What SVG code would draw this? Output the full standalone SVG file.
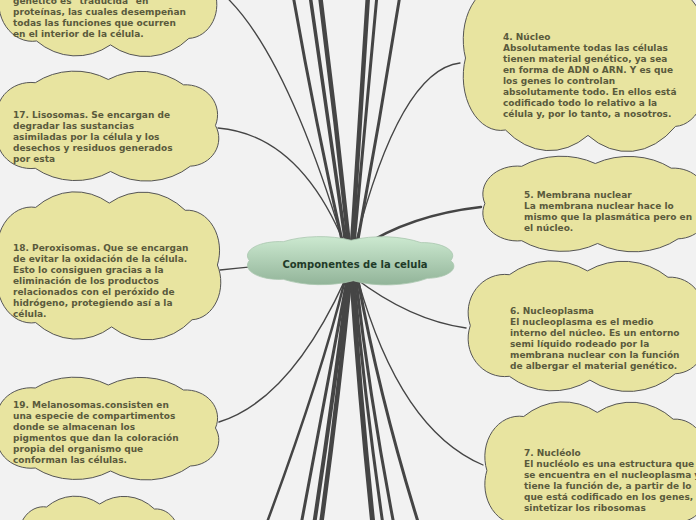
<svg xmlns="http://www.w3.org/2000/svg" xmlns:xlink="http://www.w3.org/1999/xlink" width="696" height="520" viewBox="0 0 696 520">
<style>
.bg{fill:#f2f2f2}
.cloud{fill:#e8e4a0;stroke:#555;stroke-width:1}
.center{fill:url(#gg);stroke:#a9c7ae;stroke-width:0.8}
.t{font-family:"DejaVu Sans",Verdana,sans-serif;font-size:9px;font-weight:bold;fill:#5a5a3c}
.ct{font-family:"DejaVu Sans",Verdana,sans-serif;font-size:10px;font-weight:bold;fill:#1f3b28}
.c{fill:none;stroke:#454545;stroke-linecap:round}
</style>
<defs>
<linearGradient id="gg" x1="0" y1="0" x2="0" y2="1">
<stop offset="0" stop-color="#cce9d0"/>
<stop offset="1" stop-color="#92b499"/>
</linearGradient>
<path id="cl" vector-effect="non-scaling-stroke" d="M38 10 A60 60 0 0 1 102 7 A60 60 0 0 1 168 12 A28 28 0 0 1 196 50 A26 26 0 0 1 174 88 A60 60 0 0 1 104 93 A60 60 0 0 1 38 90 A30 30 0 0 1 6 50 A30 30 0 0 1 38 10 Z"/>
</defs>
<rect class="bg" x="0" y="0" width="696" height="520"/>
<g id="connectors">
<path class="c" stroke-width="1.3" d="M216 -12 Q282 40 343 242"/>
<path class="c" stroke-width="3" d="M293 -5 Q315 120 343 245"/>
<path class="c" stroke-width="3.5" d="M310 -5 Q328 120 346 245"/>
<path class="c" stroke-width="4.5" d="M320 -5 Q336 120 349 245"/>
<path class="c" stroke-width="4.5" d="M368 -5 Q360 120 352 245"/>
<path class="c" stroke-width="3" d="M377 -5 Q366 120 354 245"/>
<path class="c" stroke-width="3" d="M400 -5 Q380 120 357 245"/>
<path class="c" stroke-width="1.3" d="M218 128 Q300 135 345 245"/>
<path class="c" stroke-width="1.3" d="M460 63 Q400 70 355 245"/>
<path class="c" stroke-width="2.5" d="M481 207 Q410 215 360 248"/>
<path class="c" stroke-width="1.3" d="M220 270 Q290 262 350 262"/>
<path class="c" stroke-width="1.5" d="M355 278 Q410 320 466 328"/>
<path class="c" stroke-width="1.3" d="M358 280 Q400 430 483 465"/>
<path class="c" stroke-width="1.5" d="M219 422 Q290 400 345 280"/>
<path class="c" stroke-width="2.5" d="M345 280 Q320 380 266 525"/>
<path class="c" stroke-width="3" d="M347 280 Q325 400 301 525"/>
<path class="c" stroke-width="4" d="M348 280 Q333 400 314 525"/>
<path class="c" stroke-width="4.5" d="M350 280 Q338 400 321 525"/>
<path class="c" stroke-width="5" d="M352 280 Q360 400 373 525"/>
<path class="c" stroke-width="3" d="M354 280 Q365 400 383 525"/>
<path class="c" stroke-width="3" d="M356 280 Q370 400 394 525"/>
<path class="c" stroke-width="3" d="M358 280 Q380 400 419 525"/>
</g>
<g id="node-top-left">
<use xlink:href="#cl" href="#cl" class="cloud" transform="translate(-6,-76) scale(1.12,1.3)"/>
<text class="t" x="13" y="3.5"><tspan x="13">genético es "traducida" en</tspan><tspan x="13" dy="11">proteínas, las cuales desempeñan</tspan><tspan x="13" dy="11">todas las funciones que ocurren</tspan><tspan x="13" dy="11">en el interior de la célula.</tspan></text>
</g>
<g id="node-lisosomas">
<use xlink:href="#cl" href="#cl" class="cloud" transform="translate(-8,72) scale(1.14,1.07)"/>
<text class="t" x="13" y="117.5"><tspan x="13">17. Lisosomas. Se encargan de</tspan><tspan x="13" dy="11">degradar las sustancias</tspan><tspan x="13" dy="11">asimiladas por la célula y los</tspan><tspan x="13" dy="11">desechos y residuos generados</tspan><tspan x="13" dy="11">por esta</tspan></text>
</g>
<g id="node-peroxisomas">
<use xlink:href="#cl" href="#cl" class="cloud" transform="translate(-8,193) scale(1.15,1.44)"/>
<text class="t" x="13" y="250.5"><tspan x="13">18. Peroxisomas. Que se encargan</tspan><tspan x="13" dy="11">de evitar la oxidación de la célula.</tspan><tspan x="13" dy="11">Esto lo consiguen gracias a la</tspan><tspan x="13" dy="11">eliminación de los productos</tspan><tspan x="13" dy="11">relacionados con el peróxido de</tspan><tspan x="13" dy="11">hidrógeno, protegiendo así a la</tspan><tspan x="13" dy="11">célula.</tspan></text>
</g>
<g id="node-melanosomas">
<use xlink:href="#cl" href="#cl" class="cloud" transform="translate(-8,378) scale(1.14,1.0)"/>
<text class="t" x="13" y="407.5"><tspan x="13">19. Melanosomas.consisten en</tspan><tspan x="13" dy="11">una especie de compartimentos</tspan><tspan x="13" dy="11">donde se almacenan los</tspan><tspan x="13" dy="11">pigmentos que dan la coloración</tspan><tspan x="13" dy="11">propia del organismo que</tspan><tspan x="13" dy="11">conforman las células.</tspan></text>
</g>
<g id="node-bottom-left">
<use xlink:href="#cl" href="#cl" class="cloud" transform="translate(15,497) scale(0.83,1)"/>
</g>
<g id="node-nucleo">
<use xlink:href="#cl" href="#cl" class="cloud" transform="translate(458,-32) scale(1.25,1.8)"/>
<text class="t" x="503" y="40"><tspan x="503">4. Núcleo</tspan><tspan x="503" dy="11">Absolutamente todas las células</tspan><tspan x="503" dy="11">tienen material genético, ya sea</tspan><tspan x="503" dy="11">en forma de ADN o ARN. Y es que</tspan><tspan x="503" dy="11">los genes lo controlan</tspan><tspan x="503" dy="11">absolutamente todo. En ellos está</tspan><tspan x="503" dy="11">codificado todo lo relativo a la</tspan><tspan x="503" dy="11">célula y, por lo tanto, a nosotros.</tspan></text>
</g>
<g id="node-membrana">
<use xlink:href="#cl" href="#cl" class="cloud" transform="translate(478,157) scale(1.15,0.93)"/>
<text class="t" x="524" y="198"><tspan x="524">5. Membrana nuclear</tspan><tspan x="524" dy="11">La membrana nuclear hace lo</tspan><tspan x="524" dy="11">mismo que la plasmática pero en</tspan><tspan x="524" dy="11">el núcleo.</tspan></text>
</g>
<g id="node-nucleoplasma">
<use xlink:href="#cl" href="#cl" class="cloud" transform="translate(463,262) scale(1.22,1.27)"/>
<text class="t" x="510" y="313.5"><tspan x="510">6. Nucleoplasma</tspan><tspan x="510" dy="11">El nucleoplasma es el medio</tspan><tspan x="510" dy="11">interno del núcleo. Es un entorno</tspan><tspan x="510" dy="11">semi líquido rodeado por la</tspan><tspan x="510" dy="11">membrana nuclear con la función</tspan><tspan x="510" dy="11">de albergar el material genético.</tspan></text>
</g>
<g id="node-nucleolo">
<use xlink:href="#cl" href="#cl" class="cloud" transform="translate(480,403) scale(1.15,1.35)"/>
<text class="t" x="524" y="455.5"><tspan x="524">7. Nucléolo</tspan><tspan x="524" dy="11">El nucléolo es una estructura que</tspan><tspan x="524" dy="11">se encuentra en el nucleoplasma y</tspan><tspan x="524" dy="11">tiene la función de, a partir de lo</tspan><tspan x="524" dy="11">que está codificado en los genes,</tspan><tspan x="524" dy="11">sintetizar los ribosomas</tspan></text>
</g>
<g id="node-center">
<use xlink:href="#cl" href="#cl" class="center" transform="translate(243,237) scale(1.06,0.47)"/>
<text class="ct" x="355" y="268" text-anchor="middle">Componentes de la celula</text>
</g>
</svg>
